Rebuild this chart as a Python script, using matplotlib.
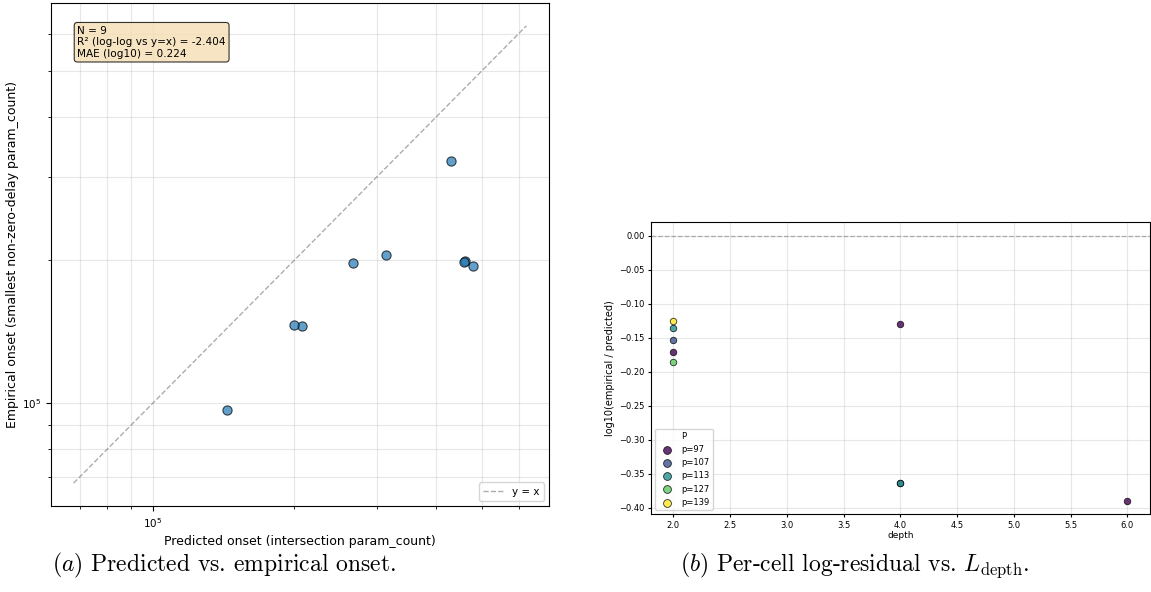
import numpy as np
import matplotlib
matplotlib.use("Agg")
import matplotlib.pyplot as plt

# per-cell values
cell_p = [97, 107, 113, 127, 139, 97, 107, 113, 97]
cell_depth = [2, 2, 2, 2, 2, 4, 4, 4, 6]
predicted = [1.44e5, 2.073e5, 2.0e5, 3.14e5, 4.31e5, 2.667e5, 4.62e5, 4.58e5, 4.79e5]
empirical = [0.971e5, 1.456e5, 1.462e5, 2.05e5, 3.23e5, 1.975e5, 1.998e5, 1.981e5, 1.95e5]
stats_text = "N = 9\nR\u00b2 (log-log vs y=x) = -2.404\nMAE (log10) = 0.224"
captions = [r"($a$) Predicted vs. empirical onset.",
            r"($b$) Per-cell log-residual vs. $L_{\mathrm{depth}}$."]

plt.rcParams["mathtext.fontset"] = "cm"

W, H = 1151, 592
fig = plt.figure(figsize=(W / 100, H / 100), dpi=100)


def px_axes(x0, y0, x1, y1):
    return fig.add_axes([x0 / W, 1 - y1 / H, (x1 - x0) / W, (y1 - y0) / H])


pred = np.array(predicted)
emp = np.array(empirical)

# (a) predicted vs empirical, log-log
ax = px_axes(51, 3, 549, 506)
lo = min(pred.min(), emp.min()) * 0.7
hi = max(pred.max(), emp.max()) * 1.3
ax.plot([lo, hi], [lo, hi], "--", color="gray", alpha=0.65, lw=1, label="y = x")
ax.scatter(pred, emp, s=44, color="tab:blue", alpha=0.7, edgecolor="k",
           linewidth=0.8, zorder=3)
ax.set_xscale("log")
ax.set_yscale("log")
ax.set_xlabel("Predicted onset (intersection param_count)", fontsize=9)
ax.set_ylabel("Empirical onset (smallest non-zero-delay param_count)", fontsize=9,
              labelpad=2)
ax.tick_params(labelsize=7.5)
ax.grid(True, which="both", alpha=0.3)
ax.legend(loc="lower right", fontsize=7.5)
ax.text(0.053, 0.955, stats_text, transform=ax.transAxes, fontsize=7.6, va="top",
        bbox=dict(boxstyle="round", facecolor="wheat", alpha=0.8, lw=0.8))

# (b) residual vs depth, coloured by p
ax2 = px_axes(650.7, 222.3, 1150, 514.3)
resid = np.log10(emp / pred)
ps = sorted(set(cell_p))
cmap = plt.get_cmap("viridis")
for i, p in enumerate(ps):
    idx = [k for k, q in enumerate(cell_p) if q == p]
    ax2.scatter([cell_depth[k] for k in idx], resid[idx], s=22,
                color=cmap(i / (len(ps) - 1)), alpha=0.8, edgecolor="k",
                linewidth=0.6, label=f"p={p}", zorder=3)
ax2.axhline(0, color="gray", ls="--", lw=0.9, alpha=0.6)
ax2.set_xlabel("depth", fontsize=6.5, labelpad=1)
ax2.set_ylabel("log10(empirical / predicted)", fontsize=7, labelpad=3)
ax2.tick_params(labelsize=6, length=2.5, pad=2)
ax2.grid(True, alpha=0.3)
ax2.legend(title="P", fontsize=6, title_fontsize=6, loc="lower left",
           markerscale=1.2)

for x, cap in zip([224 / W, 855 / W], captions):
    fig.text(x, 0.045, cap, ha="center", va="center", fontsize=17,
             family=["cmr10", "DejaVu Serif"])

fig.savefig("out.png", dpi=100)
